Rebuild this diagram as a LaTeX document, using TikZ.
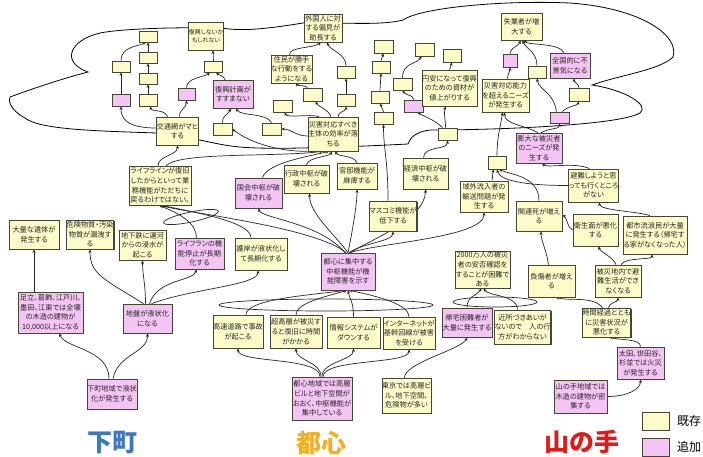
\documentclass[tikz,border=0pt]{standalone}
\usepackage{fontspec}
\setmainfont{Noto Sans CJK JP}[RawFeature=+palt]
\newfontfamily\labelfont{Noto Sans CJK JP}
\usetikzlibrary{arrows.meta,shadows}

\definecolor{ybox}{RGB}{253,252,200}
\definecolor{pbox}{RGB}{244,196,244}
\definecolor{bord}{RGB}{70,70,55}
\definecolor{shitamachi}{RGB}{60,120,190}
\definecolor{toshin}{RGB}{245,175,30}
\definecolor{yamanote}{RGB}{225,25,25}

\pgfdeclarelayer{paper}
\pgfdeclarelayer{links}
\pgfsetlayers{paper,links,main}

\tikzset{
  base/.style={draw=bord, line width=0.7pt, inner sep=0pt, align=center,
    font=\fontsize{7.2}{9.6}\selectfont, text=black!85,
    drop shadow={shadow xshift=1.1pt, shadow yshift=-1.1pt, fill=bord, opacity=1}},
  yb/.style={base, fill=ybox},
  pb/.style={base, fill=pbox},
  arr/.style={draw=black!85, line width=0.7pt, -{Stealth[length=3.5pt,width=3pt]}},
  cloudline/.style={draw=black, line width=0.8pt},
  loopline/.style={draw=black!85, line width=0.7pt},
  region/.style={font=\labelfont\bfseries\fontsize{25}{25}\selectfont},
}

% box: name, x1, y1, x2, y2, style, text
\newcommand\bx[7]{\node[#6, minimum width={(#4-#2)*1pt}, minimum height={(#5-#3)*1pt}] (#1) at ({(#2+#4)/2},{(#3+#5)/2}) {#7};}

\begin{document}
\begin{tikzpicture}[x=1pt,y=-1pt]
\begin{pgfonlayer}{paper}
\fill[white] (0,0) rectangle (703,456);
\end{pgfonlayer}
\useasboundingbox (0,0) rectangle (703,456);

% cloud outline around the upper consequences
\begin{pgfonlayer}{links}
\draw[cloudline] (10,97) .. controls (40,86) and (65,78) .. (88,72)
  .. controls (60,62) and (70,40) .. (100,33)
  .. controls (120,29) and (170,27) .. (222,28)
  .. controls (240,31) and (260,30) .. (303,23)
  .. controls (340,22) and (380,26) .. (403,20)
  .. controls (420,8) and (500,0) .. (570,3)
  .. controls (640,8) and (680,35) .. (673,57)
  .. controls (660,70) and (620,75) .. (592,85)
  .. controls (625,90) and (650,105) .. (640,113)
  .. controls (620,125) and (500,130) .. (430,130)
  .. controls (415,132) and (410,138) .. (408,144)
  .. controls (350,147) and (270,150) .. (240,147)
  .. controls (215,145) and (190,136) .. (157,133)
  .. controls (100,131) and (40,130) .. (25,118)
  .. controls (10,110) and (8,100) .. (10,97) -- cycle;

% loops between converging connectors
\draw[loopline, rotate around={12:(191,217)}] (191,217) ellipse [x radius=28pt, y radius=5pt];
\draw[loopline] (326,305) ellipse [x radius=107pt, y radius=6pt];
\draw[loopline] (495,302) ellipse [x radius=42pt, y radius=5pt];
\end{pgfonlayer}

% ---------- boxes ----------
\bx{fk}{190}{22}{222}{50}{yb,font=\fontsize{6}{8.5}\selectfont}{復興しないか\\もしれない}
\bx{fkk}{213}{80}{253}{108}{pb}{復興計画が\\すすまない}
\bx{kt}{157}{117}{198}{145}{yb}{交通網がマヒ\\する}
\bx{sA1}{139}{31}{157}{42}{yb}{}
\bx{sA2}{139}{52}{157}{63}{yb}{}
\bx{sA3}{139}{73}{157}{84}{yb}{}
\bx{sA4}{139}{94}{157}{106}{yb}{}
\bx{sB1}{112}{61}{130}{72}{yb}{}
\bx{sB2}{112}{94}{130}{106}{pb}{}
\bx{sC}{178}{88}{195}{100}{pb}{}
\bx{sD}{204}{61}{222}{72}{yb}{}
\bx{sE}{213}{123}{232}{135}{yb}{}

\bx{gk}{304}{14}{342}{42}{yb}{外国人に対\\する偏見が\\助長する}
\bx{jm}{271}{55}{312}{83}{yb}{住民が勝手\\な行動をする\\ようになる}
\bx{sF1}{337}{66}{355}{78}{yb}{}
\bx{sF2}{337}{94}{355}{106}{yb}{}
\bx{sG}{303}{88}{322}{101}{yb}{}
\bx{sH}{273}{100}{292}{112}{yb}{}
\bx{sI}{262}{123}{281}{135}{yb}{}
\bx{st}{308}{117}{358}{151}{yb}{災害対応すべき\\主体の効率が落\\ちる}
\bx{sJ1}{374}{40}{393}{53}{yb}{}
\bx{sJ2}{372}{61}{390}{73}{yb}{}
\bx{sJ3}{371}{91}{389}{103}{yb}{}
\bx{sJ4}{374}{112}{393}{124}{yb}{}
\bx{sK}{393}{78}{412}{90}{yb}{}
\bx{sL}{404}{100}{423}{112}{pb}{}
\bx{sM}{415}{43}{434}{56}{yb}{}
\bx{sN}{443}{49}{461}{62}{yb}{}
\bx{en}{422}{70}{477}{106}{yb}{円安になって復興\\のための資材が\\値上がりする}
\bx{sO}{438}{128}{457}{140}{yb}{}

\bx{sg}{501}{13}{542}{40}{yb}{失業者が増\\大する}
\bx{sP}{503}{54}{517}{67}{pb}{}
\bx{sQ}{528}{66}{546}{78}{yb}{}
\bx{zk}{550}{53}{590}{78}{pb}{全国的に不\\景気になる}
\bx{sR}{569}{88}{589}{101}{yb}{}
\bx{sS}{550}{112}{569}{123}{pb}{}
\bx{sn}{482}{79}{529}{112}{yb}{災害対応能力\\を超えるニーズ\\が発生する}
\bx{bd}{516}{133}{562}{163}{pb}{膨大な被災者\\のニーズが発\\生する}

\bx{sT}{488}{156}{506}{169}{yb}{}
\bx{hn}{570}{169}{617}{202}{yb}{避難しようと思\\っても行くところ\\がない}
\bx{ik}{460}{181}{508}{212}{yb}{域外流入者の\\輸送問題が発\\生する}
\bx{kr}{516}{201}{562}{231}{yb}{関連死が増え\\る}
\bx{es}{573}{214}{618}{246}{yb}{衛生面が悪化\\する}
\bx{tr}{623}{216}{687}{254}{yb}{都市流浪民が大量\\に発生する（帰宅す\\る家がなくなった人）}
\bx{fs}{528}{265}{575}{297}{yb}{負傷者が増え\\る}
\bx{hs}{595}{265}{641}{297}{yb}{被災地内で避\\難生活ができ\\なくなる}
\bx{an}{455}{251}{510}{288}{yb}{2000万人の被災\\者の安否確認を\\することが困難で\\ある}

\bx{kk}{235}{178}{282}{208}{pb}{国会中枢が破\\壊される}
\bx{gs}{284}{165}{329}{193}{yb}{行政中枢が破\\壊される}
\bx{kn}{337}{163}{377}{189}{yb}{官邸機能が\\麻痺する}
\bx{ms}{370}{201}{416}{231}{yb}{マスコミ機能が\\低下する}
\bx{kz}{403}{158}{448}{189}{yb}{経済中枢が破\\壊される}
\bx{go}{235}{238}{287}{270}{yb}{護岸が液状化し\\て長期化する}
\bx{tc}{321}{253}{375}{290}{pb}{都心に集中する\\中枢機能が機\\能障害を示す}
\bx{ll}{129}{166}{191}{205}{yb}{ライフラインが復旧\\したからといって業\\務機能がただちに\\戻るわけではない。}
\bx{ti}{9}{220}{59}{249}{yb}{大量な遺体が\\発生する}
\bx{kb}{67}{220}{113}{249}{yb}{危険物質・汚染\\物質が漏洩す\\る}
\bx{cs}{119}{230}{166}{260}{yb}{地下鉄に運河\\からの浸水が\\起こる}
\bx{lf}{175}{238}{224}{269}{pb}{ライフランの機\\能停止が長期\\化する}
\bx{ad}{18}{292}{83}{333}{pb}{足立、葛飾、江戸川、\\墨田、江東では全壊\\の木造の建物が\\10,000以上になる}
\bx{jb}{123}{304}{172}{333}{pb}{地盤が液状化\\になる}
\bx{sm}{87}{379}{137}{409}{pb}{下町地域で液状\\化が発生する}
\bx{kd}{213}{315}{263}{348}{yb}{高速道路で事故\\が起こる}
\bx{ck}{270}{315}{322}{348}{yb}{超高層が被災す\\ると復旧に時間\\がかかる}
\bx{js}{327}{317}{380}{348}{yb}{情報システムが\\ダウンする}
\bx{inet}{383}{317}{435}{349}{yb}{インターネットが\\基幹回線が被害\\を受ける}
\bx{tt}{292}{377}{352}{420}{pb}{都心地域では高層\\ビルと地下空間が\\おおく、中枢機能が\\集中している}
\bx{tk}{386}{378}{427}{413}{yb}{東京では高層ビ\\ル、地下空間、\\危険物が多い}
\bx{kn2}{442}{308}{492}{337}{pb}{帰宅困難者が\\大量に発生する}
\bx{kj}{496}{310}{549}{344}{yb}{近所づきあいが\\ないので　人の行\\方がわからない}
\bx{jk}{583}{308}{630}{337}{yb}{時間経過ととも\\に災害状況が\\悪化する}
\bx{ot}{617}{347}{664}{379}{pb}{太田、世田谷、\\杉並では火災\\が発生する}
\bx{ym}{554}{380}{607}{413}{pb}{山の手地域では\\木造の建物が密\\集する}

% ---------- connectors (kept under the boxes) ----------
\begin{pgfonlayer}{links}
% upper left
\draw[arr] ([yshift=3pt]kt.west) .. controls +(-30,0) and +(0,12) .. (sB2.south);
\draw[arr] (sB2.north) -- (sB1.south);
\draw[arr] (sB1.north) .. controls +(0,-14) and +(-8,4) .. ([xshift=-2pt]sA1.south);
\draw[arr] ([xshift=-10pt]kt.north) .. controls +(-3,-8) and +(2,6) .. ([xshift=2pt]sA4.south);
\draw[arr] (sA4.north) -- (sA3.south);
\draw[arr] (sA3.north) -- (sA2.south);
\draw[arr] (sA2.north) -- (sA1.south);
\draw[arr] ([xshift=2pt]kt.north) .. controls +(0,-8) and +(0,8) .. (sC.south);
\draw[arr] (sC.north) .. controls +(0,-10) and +(-6,5) .. ([xshift=-3pt]sD.south);
\draw[arr] ([xshift=-8pt]fkk.north) .. controls +(-2,-5) and +(4,4) .. ([xshift=3pt]sD.south);
\draw[arr] (sD.north) .. controls +(0,-4) and +(0,4) .. ([xshift=7pt]fk.south);
\draw[arr] (sE.north) .. controls +(0,-8) and +(-4,8) .. ([xshift=-2pt]fkk.south);
\draw[arr] (sI.north) .. controls +(-5,-10) and +(5,8) .. ([xshift=3pt]fkk.south);
\draw[arr] (st.south west) .. controls +(-40,0) and +(10,8) .. (sE.east);
\draw[arr] ([xshift=-2pt]ll.north) .. controls +(0,-10) and +(0,10) .. (kt.south);
\draw[arr] ([xshift=6pt]ll.north) .. controls +(15,-14) and +(-50,6) .. ([xshift=-10pt]st.south);
% upper middle
\draw[arr] ([xshift=5pt]st.north) .. controls +(0,-5) and +(0,5) .. (sF2.south);
\draw[arr] ([xshift=-2pt]st.north) .. controls +(-3,-8) and +(3,6) .. ([xshift=3pt]sG.south);
\draw[arr] ([xshift=-14pt]st.north) .. controls +(-10,-3) and +(3,6) .. ([xshift=2pt]sH.south);
\draw[arr] ([yshift=-2pt]st.west) .. controls +(-12,0) and +(10,0) .. (sI.east);
\draw[arr] (sF2.north) -- (sF1.south);
\draw[arr] (sF1.north) .. controls +(0,-12) and +(3,8) .. ([xshift=4pt]gk.south);
\draw[arr] ([xshift=-5pt]sG.north) .. controls +(-3,-3) and +(3,3) .. ([xshift=4pt]jm.south);
\draw[arr] ([xshift=-2pt]jm.north) .. controls +(0,-8) and +(-8,6) .. ([xshift=-2pt]gk.south);
\draw[arr] ([xshift=-5pt]ms.north) .. controls +(0,-40) and +(0,25) .. (sJ4.south);
\draw[arr] (sJ4.north) -- (sJ3.south);
\draw[arr] (sJ3.north) -- (sJ2.south);
\draw[arr] (sJ2.north) -- (sJ1.south);
\draw[arr] ([xshift=-2pt]sO.north) .. controls +(0,-10) and +(-2,8) .. ([xshift=-4pt]en.south);
\draw[arr] ([xshift=-5pt]sO.north) .. controls +(-8,-8) and +(8,5) .. ([xshift=4pt]sL.south);
\draw[arr] (sL.north) .. controls +(0,-5) and +(3,5) .. (sK.south);
\draw[arr] (sK.north) .. controls +(0,-15) and +(-5,8) .. ([xshift=-3pt]sM.south);
\draw[arr] (en.north) -- (sN.south);
\draw[arr] ([xshift=-2pt]kz.north) .. controls +(0,-12) and +(0,10) .. (sO.south);
% upper right
\draw[arr] ([xshift=2pt]sn.north) .. controls +(0,-5) and +(0,5) .. (sP.south);
\draw[arr] (sP.north) .. controls +(0,-6) and +(-2,6) .. ([xshift=-1pt]sg.south);
\draw[arr] (sQ.north) .. controls +(0,-14) and +(3,8) .. ([xshift=1pt]sg.south);
\draw[arr] ([xshift=-6pt]zk.north) .. controls +(-5,-10) and +(5,5) .. ([xshift=2pt]sg.south);
\draw[arr] ([xshift=-3pt]sS.north) .. controls +(-3,-20) and +(2,12) .. (sQ.south);
\draw[arr] ([xshift=3pt]sS.north) .. controls +(5,-6) and +(-2,5) .. (sR.south);
\draw[arr] (sR.north) .. controls +(0,-4) and +(0,4) .. ([xshift=4pt]zk.south);
\draw[arr] ([xshift=2pt]bd.north) .. controls +(10,-5) and +(0,6) .. (sS.south);
\draw[arr] ([xshift=-1pt]bd.north) .. controls +(-15,-8) and +(0,12) .. ([xshift=-1pt]sn.south);
\draw[arr] (sT.north) .. controls +(0,-20) and +(-2,15) .. ([xshift=-3pt]sn.south);
% right middle
\draw[arr] ([xshift=-4pt]hn.north) .. controls +(-15,-7) and +(5,5) .. ([xshift=3pt]bd.south);
\draw[arr] (hn.west) .. controls +(-40,0) and +(3,12) .. (sT.south);
\draw[arr] (kr.north) .. controls +(0,-25) and +(10,5) .. ([xshift=2pt]sT.south);
\draw[arr] ([xshift=8pt]ik.north) .. controls +(1,-5) and +(-2,5) .. ([xshift=-3pt]sT.south);
\draw[arr] ([xshift=-5pt]tr.north) .. controls +(-10,-4) and +(0,8) .. ([xshift=6pt]hn.south);
\draw[arr] (es.west) .. controls +(-6,-3) and +(5,3) .. ([yshift=1pt]kr.east);
\draw[arr] ([xshift=-2pt]hs.north) .. controls +(-3,-8) and +(2,6) .. ([xshift=3pt]es.south);
\draw[arr] ([xshift=3pt]hs.north) .. controls +(5,-8) and +(0,6) .. ([xshift=-3pt]tr.south);
\draw[arr] ([xshift=-3pt]fs.north) .. controls +(-2,-15) and +(0,10) .. ([xshift=2pt]kr.south);
\draw[arr] ([xshift=-4pt]jk.north) .. controls +(-10,-12) and +(15,4) .. ([xshift=4pt]fs.south);
\draw[arr] ([xshift=2pt]jk.north) .. controls +(0,-5) and +(0,5) .. (hs.south);
\draw[arr] (ot.north) .. controls +(0,-8) and +(12,3) .. ([xshift=3pt]jk.south);
\draw[arr] (ym.east) .. controls +(20,0) and +(0,10) .. (ot.south);
% centre hub
\draw[arr] ([xshift=-3pt]tc.north) .. controls +(-25,-30) and +(3,10) .. (kk.south);
\draw[arr] ([xshift=-2pt]tc.north) .. controls +(-30,-25) and +(30,8) .. (ll.south);
\draw[arr] (tc.north) .. controls +(-15,-20) and +(0,20) .. ([xshift=3pt]gs.south);
\draw[arr] (tc.north) .. controls +(5,-25) and +(0,15) .. (kn.south);
\draw[arr] ([xshift=1pt]tc.north) .. controls +(15,-10) and +(0,10) .. (ms.south);
\draw[arr] ([xshift=2pt]tc.north) .. controls +(15,-10) and +(0,30) .. (kz.south);
\draw[arr] ([xshift=2pt]tc.north) .. controls +(30,-10) and +(0,25) .. (ik.south);
\draw[arr] ([xshift=4pt]kk.north) .. controls +(5,-15) and +(-20,5) .. ([xshift=-4pt]st.south);
\draw[arr] (gs.north) .. controls +(2,-8) and +(-3,6) .. ([xshift=-1pt]st.south);
\draw[arr] (kn.north) .. controls +(-4,-8) and +(4,6) .. ([xshift=2pt]st.south);
% lower left
\draw[arr] ([xshift=-10pt]go.north) .. controls +(0,-15) and +(40,8) .. ([xshift=1pt]ll.south);
\draw[arr] ([xshift=-3pt]lf.north) .. controls +(0,-15) and +(20,8) .. ([xshift=-1pt]ll.south);
\draw[arr] ([xshift=-4pt]jb.north) .. controls +(-40,-25) and +(0,25) .. (kb.south);
\draw[arr] ([xshift=-2pt]jb.north) .. controls +(0,-20) and +(0,15) .. (cs.south);
\draw[arr] ([xshift=2pt]jb.north) .. controls +(8,-25) and +(-3,12) .. ([xshift=-3pt]lf.south);
\draw[arr] ([xshift=4pt]jb.north) .. controls +(40,-15) and +(0,15) .. ([xshift=-3pt]go.south);
\draw[arr] ([xshift=-16.5pt]ad.north) -- (ti.south);
\draw[arr] ([xshift=-3pt]sm.north) .. controls +(0,-30) and +(5,15) .. ([xshift=9pt]ad.south);
\draw[arr] ([xshift=1pt]sm.north) .. controls +(5,-25) and +(0,20) .. (jb.south);
% lower middle
\draw[arr] ([xshift=-2pt]tt.north) .. controls +(0,-20) and +(0,15) .. (kd.south);
\draw[arr] ([xshift=-1pt]tt.north) .. controls +(0,-15) and +(0,12) .. (ck.south);
\draw[arr] (tt.north) .. controls +(0,-15) and +(0,12) .. (js.south);
\draw[arr] ([xshift=1pt]tt.north) .. controls +(0,-18) and +(0,15) .. (inet.south);
\draw[arr] ([xshift=-2pt]tk.north) .. controls +(0,-15) and +(-5,12) .. (kn2.south);
\draw[arr] ([xshift=8pt]kd.north) .. controls +(0,-15) and +(-40,5) .. ([xshift=-2pt]tc.south);
\draw[arr] (ck.north) .. controls +(0,-12) and +(-20,6) .. ([xshift=-1pt]tc.south);
\draw[arr] (js.north) .. controls +(0,-15) and +(2,10) .. (tc.south);
\draw[arr] (inet.north) .. controls +(0,-12) and +(30,6) .. ([xshift=1pt]tc.south);
\draw[arr] (kn2.north) .. controls +(0,-12) and +(-5,8) .. ([xshift=-1pt]an.south);
\draw[arr] ([xshift=-5pt]kj.north) .. controls +(0,-15) and +(5,8) .. ([xshift=1pt]an.south);
\end{pgfonlayer}

% ---------- region labels ----------
\node[region, text=shitamachi] (lbS) at (112,443) {下町};
\node[region, text=toshin] (lbT) at (321,443) {都心};
\node[region, text=yamanote] (lbY) at (582,442) {山の手};

% ---------- legend ----------
\node[yb, minimum width=27pt, minimum height=18pt] (lgY) at (655.5,421) {};
\node[pb, minimum width=27pt, minimum height=18pt] (lgP) at (655.5,447) {};
\node[anchor=west, font=\fontsize{12}{12}\selectfont, inner sep=0pt] (lgYt) at (677,421) {既存};
\node[anchor=west, font=\fontsize{12}{12}\selectfont, inner sep=0pt] (lgPt) at (677,447) {追加};
\end{tikzpicture}
\end{document}
